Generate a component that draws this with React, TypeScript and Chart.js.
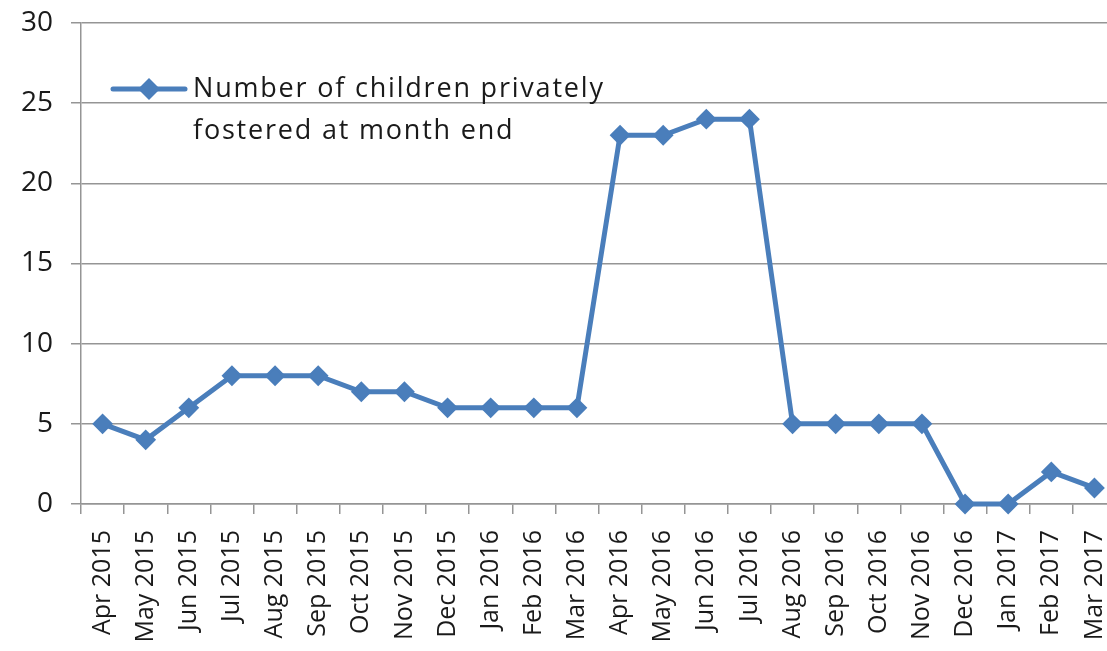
import React, { useEffect, useRef } from "react";
import { Chart, registerables } from "chart.js";

Chart.register(...registerables);

const categories: string[] = [
  "Apr 2015", "May 2015", "Jun 2015", "Jul 2015", "Aug 2015", "Sep 2015",
  "Oct 2015", "Nov 2015", "Dec 2015", "Jan 2016", "Feb 2016", "Mar 2016",
  "Apr 2016", "May 2016", "Jun 2016", "Jul 2016", "Aug 2016", "Sep 2016",
  "Oct 2016", "Nov 2016", "Dec 2016", "Jan 2017", "Feb 2017", "Mar 2017",
];

const childrenFostered: number[] = [
  5, 4, 6, 8, 8, 8, 7, 7, 6, 6, 6, 6,
  23, 23, 24, 24, 5, 5, 5, 5, 0, 0, 2, 1,
];

const seriesLabelLines: string[] = ["Number of children privately", "fostered at month end"];

const yTicks: number[] = [0, 5, 10, 15, 20, 25, 30];

const BLUE = "#4a7ebb";
const GRID = "#959595";
const FONT = "'Open Sans', sans-serif";

const legendPlugin = {
  id: "customLegend",
  afterDraw(chart: any) {
    const ctx = chart.ctx;
    const area = chart.chartArea;
    const x0 = area.left + 32;
    const x1 = area.left + 104;
    const y = 89;
    ctx.save();
    ctx.strokeStyle = BLUE;
    ctx.lineWidth = 5;
    ctx.lineCap = "round";
    ctx.beginPath();
    ctx.moveTo(x0, y);
    ctx.lineTo(x1, y);
    ctx.stroke();
    const cx = (x0 + x1) / 2;
    const r = 11;
    ctx.fillStyle = BLUE;
    ctx.beginPath();
    ctx.moveTo(cx, y - r);
    ctx.lineTo(cx + r, y);
    ctx.lineTo(cx, y + r);
    ctx.lineTo(cx - r, y);
    ctx.closePath();
    ctx.fill();
    ctx.fillStyle = "#1a1a1a";
    ctx.font = `27px ${FONT}`;
    try {
      (ctx as any).letterSpacing = "1.8px";
    } catch (e) {}
    ctx.textBaseline = "middle";
    ctx.textAlign = "left";
    seriesLabelLines.forEach((line, i) => {
      ctx.fillText(line, x1 + 8, y + i * 42);
    });
    ctx.restore();
  },
};

export default function App() {
  const ref = useRef<HTMLCanvasElement | null>(null);

  useEffect(() => {
    if (!ref.current) return;
    const chart = new Chart(ref.current, {
      type: "line",
      data: {
        labels: categories,
        datasets: [
          {
            label: seriesLabelLines.join(" "),
            data: childrenFostered,
            borderColor: BLUE,
            backgroundColor: BLUE,
            borderWidth: 5,
            pointStyle: "rectRot",
            pointRadius: 9,
            pointBorderWidth: 2,
            pointBackgroundColor: BLUE,
            pointBorderColor: BLUE,
            tension: 0,
            clip: false as any,
          },
        ],
      },
      options: {
        animation: false,
        responsive: false,
        maintainAspectRatio: false,
        layout: { padding: { top: 23, right: 14, left: 0, bottom: 0 } },
        plugins: {
          legend: { display: false },
          tooltip: { enabled: false },
        },
        scales: {
          x: {
            type: "category",
            offset: true,
            grid: {
              display: true,
              drawOnChartArea: false,
              drawTicks: true,
              tickLength: 10,
              color: GRID,
              lineWidth: 1.5,
              offset: true,
            },
            border: { display: true, color: GRID, width: 1.5 },
            ticks: {
              autoSkip: false,
              maxRotation: 90,
              minRotation: 90,
              padding: 16,
              color: "#1a1a1a",
              font: { family: FONT, size: 25 },
            },
            afterFit(scale: any) {
              scale.height = 147;
              scale.paddingLeft = 0;
              scale.paddingRight = 0;
            },
          },
          y: {
            min: 0,
            max: 30,
            afterBuildTicks(scale: any) {
              scale.ticks = yTicks.map((v) => ({ value: v }));
            },
            grid: {
              color: GRID,
              lineWidth: 1.5,
              drawTicks: true,
              tickLength: 10,
            },
            border: { display: true, color: GRID, width: 1.5 },
            ticks: {
              padding: 18,
              color: "#1a1a1a",
              font: { family: FONT, size: 28 },
            },
            afterFit(scale: any) {
              scale.width = 81;
              scale.paddingTop = 0;
              scale.paddingBottom = 0;
            },
          },
        },
      },
      plugins: [legendPlugin],
    });
    return () => chart.destroy();
  }, []);

  return (
    <div
      style={{
        position: "fixed",
        left: 0,
        top: 0,
        width: 1107,
        height: 651,
        overflow: "hidden",
        background: "#fff",
      }}
    >
      <canvas ref={ref} width={1130} height={651} style={{ display: "block" }} />
    </div>
  );
}
